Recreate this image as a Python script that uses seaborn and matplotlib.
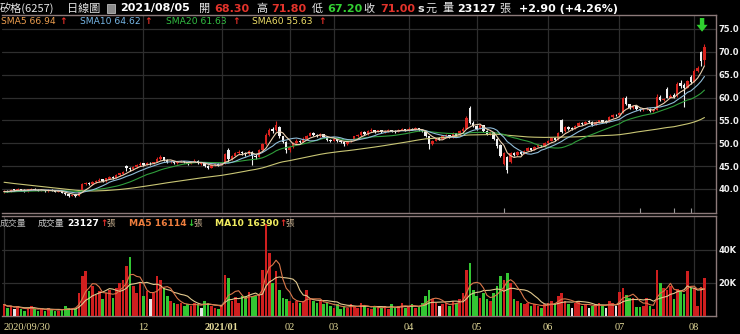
import numpy as np
import pandas as pd
import matplotlib
matplotlib.use("Agg")
import matplotlib.pyplot as plt
import seaborn as sns
from matplotlib.patches import Rectangle

# ---------------- data ----------------
opens = [
    39.4, 39.6, 39.4, 39.9, 39.7, 40.0, 39.8, 39.5, 39.8, 40.1,
    39.8, 39.6, 39.7, 39.5, 39.8, 39.6, 39.4, 39.5, 39.2, 38.8,
    38.5, 38.8, 38.5, 39.8, 41.0, 41.4, 41.0, 41.5, 41.8, 42.1,
    41.7, 42.2, 42.7, 42.4, 43.0, 43.3, 45.1, 44.6, 44.3, 44.9,
    45.2, 45.6, 45.3, 45.7, 45.6, 45.9, 46.6, 47.0, 46.4, 45.8,
    46.0, 45.6, 45.9, 46.1, 45.8, 45.5, 45.9, 46.2, 45.5, 45.6,
    45.0, 44.7, 45.2, 45.5, 45.3, 45.6, 48.6, 46.5, 47.3, 47.9,
    48.2, 47.8, 47.6, 48.2, 47.3, 47.0, 48.6, 49.8, 51.8, 53.2,
    52.8, 53.6, 51.5, 50.3, 48.5, 49.2, 50.0, 50.6, 50.3, 51.0,
    51.6, 52.2, 51.8, 51.5, 52.0, 51.4, 50.8, 50.6, 51.0, 50.5,
    50.2, 49.8, 50.4, 50.8, 51.5, 51.8, 52.4, 52.0, 52.6, 52.9,
    52.5, 52.8, 52.4, 52.6, 52.9, 52.7, 52.5, 52.9, 53.1, 52.8,
    53.2, 53.0, 53.3, 52.9, 52.6, 51.5, 49.8, 50.5, 51.1, 51.0,
    51.5, 51.8, 51.3, 52.2, 51.8, 52.6, 53.2, 57.8, 54.5, 53.8,
    53.2, 53.9, 52.6, 52.0, 52.4, 51.0, 49.6, 45.4, 47.0, 45.9,
    47.8, 47.4, 48.0, 47.7, 48.4, 48.9, 48.6, 49.2, 49.6, 49.3,
    50.0, 50.5, 51.2, 50.8, 55.0, 52.6, 53.6, 53.3, 53.2, 53.8,
    54.5, 54.2, 54.8, 54.7, 54.0, 54.6, 55.0, 54.8, 54.7, 55.7,
    56.2, 56.1, 56.8, 60.0, 58.6, 57.7, 58.1, 57.4, 57.2, 57.5,
    57.6, 57.0, 57.3, 60.2, 59.5, 61.8, 60.0, 60.5, 60.3, 63.2,
    62.8, 62.1, 64.6, 63.5, 65.8, 69.9, 68.3,
]
highs = [
    39.8, 39.7, 39.9, 40.1, 40.2, 40.1, 39.9, 40.0, 40.3, 40.2,
    39.9, 39.9, 39.8, 39.9, 39.9, 39.7, 39.6, 39.6, 39.3, 38.9,
    38.9, 38.9, 39.8, 41.3, 41.6, 41.5, 41.7, 42.0, 42.3, 42.2,
    42.5, 42.8, 42.8, 43.2, 43.6, 44.0, 45.3, 44.8, 45.1, 45.4,
    45.8, 45.7, 45.8, 45.9, 46.0, 46.9, 47.4, 47.1, 46.5, 46.3,
    46.1, 46.1, 46.4, 46.2, 45.9, 46.1, 46.5, 46.3, 45.9, 45.7,
    45.2, 45.4, 45.7, 45.6, 45.8, 47.9, 48.9, 47.5, 48.1, 48.5,
    48.3, 48.0, 48.6, 48.4, 47.6, 48.8, 50.1, 52.2, 53.4, 53.6,
    54.8, 53.8, 51.7, 50.5, 49.5, 50.3, 50.9, 50.8, 51.3, 51.9,
    52.5, 52.4, 52.0, 52.3, 52.1, 51.5, 51.0, 51.2, 51.1, 50.7,
    50.3, 50.6, 51.0, 51.7, 52.0, 52.7, 52.6, 52.8, 53.3, 53.0,
    53.0, 52.9, 52.8, 53.1, 53.0, 52.8, 53.1, 53.4, 53.2, 53.5,
    53.3, 53.6, 53.4, 53.0, 52.7, 51.6, 50.7, 51.2, 51.4, 51.7,
    52.0, 51.9, 52.4, 52.3, 52.8, 53.5, 55.9, 58.2, 54.8, 54.0,
    54.1, 54.0, 52.8, 52.6, 52.5, 51.2, 49.8, 48.2, 47.2, 48.1,
    48.0, 48.3, 48.1, 48.6, 49.1, 49.0, 49.4, 49.8, 49.7, 50.2,
    50.7, 51.4, 51.3, 52.5, 55.3, 53.8, 53.7, 53.5, 54.0, 54.7,
    54.6, 54.9, 55.0, 54.8, 54.8, 55.2, 55.1, 55.0, 55.9, 56.3,
    56.4, 56.9, 60.2, 60.3, 58.7, 58.3, 58.2, 57.8, 57.8, 57.9,
    57.7, 57.5, 60.7, 60.5, 60.0, 62.3, 60.8, 61.0, 63.4, 63.8,
    63.2, 63.9, 65.0, 66.2, 66.8, 70.2, 71.8,
]
lows = [
    39.2, 39.3, 39.3, 39.6, 39.6, 39.6, 39.4, 39.4, 39.7, 39.7,
    39.5, 39.5, 39.4, 39.4, 39.5, 39.3, 39.3, 39.1, 38.7, 38.3,
    38.4, 38.2, 38.4, 39.7, 40.8, 40.8, 40.9, 41.3, 41.6, 41.5,
    41.6, 42.1, 42.2, 42.3, 42.9, 43.2, 44.0, 44.0, 44.2, 44.7,
    45.0, 45.1, 45.2, 45.3, 45.4, 45.8, 46.4, 46.2, 45.6, 45.7,
    45.4, 45.5, 45.8, 45.6, 45.3, 45.4, 45.8, 45.4, 45.3, 44.8,
    44.4, 44.6, 45.0, 45.1, 45.2, 45.5, 46.0, 46.3, 47.2, 47.7,
    47.5, 47.3, 47.5, 45.3, 46.6, 46.9, 48.5, 49.7, 51.6, 52.3,
    52.6, 51.2, 50.0, 47.8, 48.2, 49.0, 49.8, 50.0, 50.2, 50.9,
    51.5, 51.6, 51.3, 51.4, 51.2, 50.6, 50.3, 50.5, 50.3, 50.0,
    49.5, 49.7, 50.3, 50.7, 51.3, 51.7, 51.8, 51.9, 52.5, 52.3,
    52.4, 52.2, 52.3, 52.5, 52.5, 52.3, 52.4, 52.8, 52.6, 52.7,
    52.8, 52.9, 52.7, 52.4, 51.3, 48.8, 49.7, 50.4, 50.7, 50.9,
    51.4, 51.1, 51.2, 51.6, 51.7, 52.5, 53.1, 54.3, 53.6, 53.0,
    53.1, 52.4, 51.8, 51.9, 50.8, 49.0, 47.0, 45.2, 43.5, 45.7,
    47.2, 47.3, 47.5, 47.6, 48.3, 48.4, 48.5, 49.1, 49.1, 49.2,
    49.9, 50.4, 50.6, 50.7, 52.2, 52.5, 53.0, 53.0, 53.1, 53.7,
    54.0, 54.1, 54.4, 53.8, 53.9, 54.5, 54.5, 54.5, 54.6, 55.6,
    55.9, 56.0, 56.7, 58.3, 57.5, 57.5, 57.2, 57.0, 57.1, 57.3,
    56.8, 56.9, 57.2, 59.3, 59.2, 59.8, 59.9, 59.8, 60.2, 62.2,
    58.0, 62.0, 63.0, 63.4, 65.5, 67.0, 67.2,
]
closes = [
    39.6, 39.4, 39.8, 39.8, 40.0, 39.7, 39.5, 39.9, 40.1, 39.8,
    39.6, 39.7, 39.5, 39.8, 39.6, 39.4, 39.5, 39.2, 38.8, 38.5,
    38.7, 38.4, 39.6, 41.0, 41.3, 41.0, 41.5, 41.8, 42.0, 41.7,
    42.3, 42.6, 42.4, 43.0, 43.4, 43.8, 44.6, 44.3, 44.9, 45.2,
    45.5, 45.3, 45.6, 45.6, 45.8, 46.6, 47.0, 46.4, 45.8, 46.0,
    45.6, 45.9, 46.1, 45.8, 45.5, 45.9, 46.2, 45.6, 45.6, 45.0,
    44.7, 45.2, 45.5, 45.3, 45.6, 47.6, 46.5, 47.3, 47.9, 48.2,
    47.8, 47.6, 48.4, 47.2, 47.0, 48.6, 49.8, 51.8, 53.0, 52.6,
    54.0, 51.5, 50.3, 48.5, 49.2, 50.0, 50.6, 50.3, 51.0, 51.6,
    52.2, 51.8, 51.5, 52.0, 51.4, 50.8, 50.6, 51.0, 50.5, 50.2,
    49.8, 50.4, 50.8, 51.5, 51.8, 52.4, 52.0, 52.6, 52.9, 52.5,
    52.8, 52.4, 52.6, 52.9, 52.7, 52.5, 52.9, 53.1, 52.8, 53.2,
    53.0, 53.3, 52.9, 52.6, 51.5, 49.8, 50.5, 51.0, 51.0, 51.5,
    51.8, 51.3, 52.2, 51.8, 52.6, 53.2, 55.6, 54.5, 53.8, 53.2,
    53.9, 52.6, 52.0, 52.4, 51.0, 49.3, 47.2, 47.9, 44.2, 47.8,
    47.4, 48.0, 47.7, 48.4, 48.9, 48.6, 49.2, 49.6, 49.3, 50.0,
    50.5, 51.2, 50.8, 52.3, 52.5, 53.6, 53.2, 53.2, 53.8, 54.5,
    54.2, 54.7, 54.7, 54.0, 54.6, 55.0, 54.7, 54.7, 55.7, 56.1,
    56.1, 56.6, 59.8, 58.6, 57.7, 58.1, 57.4, 57.2, 57.5, 57.6,
    57.0, 57.2, 60.2, 59.5, 59.7, 60.0, 60.4, 60.2, 63.0, 62.6,
    62.1, 63.6, 63.4, 65.8, 66.4, 68.1, 71.0,
]
# closes of the 59 sessions before the first bar (only feed the moving averages)
prior_closes = [
    45.2, 45.6, 45.0, 44.8, 45.3, 44.9, 44.6, 44.9, 44.4, 44.7,
    44.2, 44.5, 44.0, 44.3, 43.9, 44.2, 43.8, 44.1, 43.6, 43.9,
    43.5, 43.2, 43.6, 43.0, 42.4, 41.8, 41.2, 40.6, 40.3, 39.9,
    39.6, 39.8, 39.4, 39.2, 39.5, 39.1, 39.3, 38.9, 39.2, 39.0,
    38.8, 39.1, 39.3, 38.9, 39.2, 39.4, 39.0, 39.3, 39.5, 39.2,
    39.6, 39.3, 39.0, 39.4, 39.7, 39.5, 39.2, 39.6, 39.4,
]
# volume in thousand lots
volumes_k = [
    7, 5, 6, 4, 6, 4, 3, 5, 6, 4, 3, 4, 3, 5, 4, 3, 3, 4, 6, 5, 4, 5,
    14, 24, 27, 15, 18, 13, 15, 10, 14, 16, 11, 17, 20, 22, 30, 36, 18, 14, 20, 12, 15, 10, 14, 24, 22, 17,
    12, 9, 8, 7, 8, 6, 7, 6, 8, 7, 5, 9, 8, 6, 5, 4, 6,
    25, 23, 9, 11.5, 8, 12, 12, 14.5, 12, 12, 13, 28, 56, 38, 20, 27, 16, 11, 10, 9, 8, 9,
    8, 9, 16, 10, 9, 8, 9, 7, 8,
    6, 5, 7, 4, 6, 5, 7, 6, 5, 8, 6, 5, 4, 6, 5,
    5, 6, 4, 7, 5, 6, 8, 5, 6, 7, 5, 6, 8,
    12, 16, 10, 8,
    6, 7, 8, 6, 9, 8, 10, 14,
    28, 32,
    16, 12, 11, 14, 10, 9, 14, 18,
    24, 22, 26, 20,
    10, 9, 8, 7, 8, 6, 7, 6, 5, 7, 8,
    9, 8, 12, 14, 9, 7, 5, 8, 9, 6, 7, 5, 6, 7, 8, 6, 5, 9, 8, 6,
    14.5, 17, 12.7, 11, 11, 5.5, 5.5, 6, 11, 6, 4, 28, 20, 17, 16, 18,
    10.5, 16.5, 15.5, 13.5, 27.3, 17, 17, 6, 17.45, 23.127,
]
month_tick_idx = [0, 41, 64, 84, 97, 119, 139, 160, 181, 203]
month_tick_labels = ["2020/09/30", "12", "2021/01", "02", "03", "04", "05", "06", "07", "08"]
price_ticks = [40, 45, 50, 55, 60, 65, 70, 75]
vol_ticks = [20000, 40000]
vol_tick_labels = ["20K", "40K"]
event_idx = [147, 187, 197, 202]

# ---------------- style ----------------
sns.set_theme(style="dark")
plt.rcParams["font.family"] = ["DejaVu Sans", "Noto Sans CJK TC"]
CJK = ["Noto Sans CJK TC", "DejaVu Sans"]

W, H = 740, 334
fig = plt.figure(figsize=(W / 100, H / 100), dpi=100, facecolor="black")

def fx(px):
    return px / W

def fy(py):
    return 1 - py / H

BORDER = "#8c7a7a"
GRID = "#2e2e2e"
RED = "#d8231e"
WHITE = "#f2f2f2"
GREEN = "#2fcf2f"

L, R = 2, 716
ax_p = fig.add_axes([fx(L), fy(213), fx(R) - fx(L), fy(15) - fy(213)])
ax_v = fig.add_axes([fx(L), fy(316), fx(R) - fx(L), fy(216) - fy(316)])

n = len(closes)
idx = np.arange(n)
o = np.array(opens); h = np.array(highs); lo = np.array(lows); c = np.array(closes)

for ax in (ax_p, ax_v):
    ax.set_facecolor("black")
    ax.spines["left"].set_visible(False)
    for s in ("top", "right", "bottom"):
        ax.spines[s].set_color(BORDER)
        ax.spines[s].set_linewidth(1.0)
    ax.set_xlim(-0.6, 209.4)
    ax.set_xticks(month_tick_idx[1:])
    ax.grid(True, color=GRID, linewidth=0.9)
    ax.yaxis.tick_right()
    ax.tick_params(axis="y", length=0, pad=1.5, labelcolor="#f0f0f0", labelsize=6.0)

# ----- price panel -----
ax_p.set_ylim(34.75, 78.06)
ax_p.set_yticks(price_ticks)
ax_p.set_yticklabels([f"{v:.1f}" for v in price_ticks], fontweight="bold")
ax_p.tick_params(axis="x", length=0, labelbottom=False)

cc = np.where(c >= o, RED, WHITE)
ax_p.vlines(idx, lo, h, colors=cc, linewidth=0.8, zorder=3)
body_bottom = np.minimum(o, c)
body_h = np.maximum(np.abs(c - o), 0.1)
ax_p.bar(idx, body_h, bottom=body_bottom, width=0.72, color=cc, linewidth=0, zorder=3)

allc = pd.Series(prior_closes + closes)
ma_specs = [(60, "#c9c675"), (20, "#2f9e3c"), (10, "#8fbcd8"), (5, "#ead0b0")]
for w, col in ma_specs:
    ma = allc.rolling(w).mean().iloc[len(prior_closes):].to_numpy()
    sns.lineplot(x=idx, y=ma, ax=ax_p, color=col, linewidth=0.8, zorder=4)

ax_p.vlines(event_idx, 34.75, 35.9, colors="#9a9a9a", linewidth=0.8, zorder=2)
ax_p.annotate("", xy=(205.3, 74.4), xytext=(205.3, 77.4),
              arrowprops=dict(facecolor=GREEN, edgecolor="none", width=3.2,
                              headwidth=8, headlength=5), zorder=6)

# ----- volume panel -----
vol = np.array(volumes_k) * 1000.0
prev_c = np.concatenate([[prior_closes[-1]], c[:-1]])
vc = np.where(c > prev_c, "#cf1f1f", np.where(c < prev_c, "#33c633", "#e6e6e6"))
ax_v.bar(idx, vol, width=0.78, color=vc, linewidth=0, zorder=3)
vs = pd.Series(vol)
sns.lineplot(x=idx, y=vs.rolling(10, min_periods=1).mean().to_numpy(), ax=ax_v,
             color="#e2c98e", linewidth=0.8, zorder=4)
sns.lineplot(x=idx, y=vs.rolling(5, min_periods=1).mean().to_numpy(), ax=ax_v,
             color="#d9774a", linewidth=0.8, zorder=4)
ax_v.set_ylim(0, 60600)
ax_v.set_yticks(vol_ticks)
ax_v.set_yticklabels(vol_tick_labels, fontweight="bold")
ax_v.set_xticks(month_tick_idx)
ax_v.set_xticklabels(month_tick_labels)
ax_v.tick_params(axis="x", length=3, width=0.8, color="#9a9a9a", direction="out",
                 pad=2, labelsize=7.5, labelcolor="#e6dc9a")
labs = ax_v.get_xticklabels()
labs[0].set_ha("left")
labs[2].set_fontweight("bold")
for t in labs:
    t.set_family(["Liberation Serif"])

# ---------------- header texts ----------------
def put(px, py, s, color, size=8, weight="normal", family=None):
    fig.text(fx(px), fy(py), s, color=color, fontsize=size, fontweight=weight,
             ha="left", va="center", family=family if family else ["DejaVu Sans"])

Y1 = 8.5
put(0, Y1, "矽格(6257)", "#e6e6e6", 8, family=CJK)
put(67, Y1, "日線圖", "#e6e6e6", 8, family=CJK)
fig.patches.append(Rectangle((fx(107), fy(13)), fx(8), fy(4) - fy(13), transform=fig.transFigure,
                             facecolor="#8a8a8a", edgecolor="#bbbbbb", linewidth=0.6))
put(120, Y1, "2021/08/05", "white", 8, "bold")
put(199, Y1, "開", "#e6e6e6", 8, family=CJK)
put(214, Y1, "68.30", "#e3332b", 8, "bold")
put(256, Y1, "高", "#e6e6e6", 8, family=CJK)
put(271, Y1, "71.80", "#e3332b", 8, "bold")
put(312, Y1, "低", "#e6e6e6", 8, family=CJK)
put(327, Y1, "67.20", "#33d033", 8, "bold")
put(363, Y1, "收", "#e6e6e6", 8, family=CJK)
put(380, Y1, "71.00", "#e3332b", 8, "bold")
put(417, Y1, "s", "#e6e6e6", 8, "bold")
put(425, Y1, "元", "#e6e6e6", 8, family=CJK)
put(442, Y1, "量", "#e6e6e6", 8, family=CJK)
put(457, Y1, "23127", "white", 8, "bold")
put(499, Y1, "張", "#e6e6e6", 8, family=CJK)
put(519, Y1, "+2.90 (+4.26%)", "white", 8, "bold")

Y2 = 21.5
put(1, Y2, "SMA5 66.94", "#f0a050", 6.6)
put(59, Y2, "↑", "#e8302a", 6.6, "bold")
put(80, Y2, "SMA10 64.62", "#78b8e8", 6.6)
put(144, Y2, "↑", "#e8302a", 6.6, "bold")
put(166, Y2, "SMA20 61.63", "#33c043", 6.6)
put(232, Y2, "↑", "#e8302a", 6.6, "bold")
put(252, Y2, "SMA60 55.63", "#f0e068", 6.6)
put(318, Y2, "↑", "#e8302a", 6.6, "bold")

Y3 = 223.5
put(0, Y3, "成交量", "#b8b8b8", 6.4, family=CJK)
put(38, Y3, "成交量", "#c8c8c8", 6.4, family=CJK)
put(67, Y3, "23127", "white", 6.6, "bold")
put(100, Y3, "↑", "#e8302a", 6.2, "bold")
put(106, Y3, "張", "#c8b090", 6.2, family=CJK)
put(129, Y3, "MA5 16114", "#ee7e3e", 6.6, "bold")
put(187, Y3, "↓", "#33cc33", 6.2, "bold")
put(193, Y3, "張", "#c8b090", 6.2, family=CJK)
put(215, Y3, "MA10 16390", "#f0ec60", 6.6, "bold")
put(279, Y3, "↑", "#e8302a", 6.2, "bold")
put(285, Y3, "張", "#c8b090", 6.2, family=CJK)

fig.savefig("out.png", dpi=100, facecolor="black")
